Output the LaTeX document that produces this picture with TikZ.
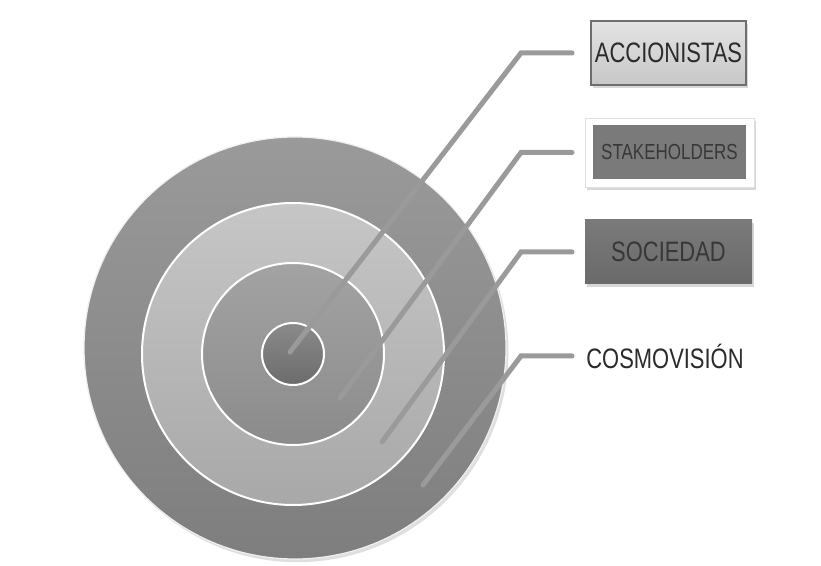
\documentclass[tikz,border=0pt]{standalone}
\usepackage{fontspec}
\setmainfont{Liberation Sans}[FakeStretch=0.78]
\usepackage{xcolor}
\usetikzlibrary{shadows}
\definecolor{OuterTop}{HTML}{9A9A9A}
\definecolor{OuterBot}{HTML}{7E7E7E}
\definecolor{MidTop}{HTML}{C6C6C6}
\definecolor{MidBot}{HTML}{A8A8A8}
\definecolor{InTop}{HTML}{A3A3A3}
\definecolor{InBot}{HTML}{8B8B8B}
\definecolor{CoreTop}{HTML}{8A8A8A}
\definecolor{CoreBot}{HTML}{6C6C6C}
\definecolor{Leader}{HTML}{9A9A9A}
\definecolor{Ink}{HTML}{2B2B2B}
\definecolor{InkSoft}{HTML}{383838}
\definecolor{Edge}{HTML}{6E6E6E}
\definecolor{PaleTop}{HTML}{E3E3E3}
\definecolor{PaleBot}{HTML}{C7C7C7}
\definecolor{DarkFill}{HTML}{7A7A7A}
\definecolor{DeepTop}{HTML}{7A7A7A}
\definecolor{DeepBot}{HTML}{6A6A6A}

\begin{document}
\begin{tikzpicture}[x=1cm,y=1cm]
  \tikzset{
    ring/.style={
      circle,
      inner sep=0pt,
      draw=white,
      line width=0.05cm
    },
    leader/.style={line width=0.125cm, Leader, line cap=round},
    tag/.style={
      inner sep=0pt,
      align=center,
      text=Ink,
      font=\fontsize{20}{22}\selectfont
    },
    tagshadow/.style={drop shadow={opacity=0.3, shadow xshift=0.04cm, shadow yshift=-0.08cm}},
    tagpale/.style={tag, tagshadow, draw=Edge, line width=0.05cm,
      top color=PaleTop, bottom color=PaleBot,
      minimum width=3.875cm, minimum height=1.6cm},
    tagframe/.style={tagshadow, draw=black!12, line width=0.4pt, fill=white,
      minimum width=4.225cm, minimum height=1.725cm},
    tagdark/.style={tag, fill=DarkFill, text=InkSoft,
      font=\fontsize{15.5}{17}\selectfont,
      minimum width=3.825cm, minimum height=1.35cm},
    tagdeep/.style={tag, tagshadow, top color=DeepTop, bottom color=DeepBot, text=InkSoft,
      minimum width=4.175cm, minimum height=1.6cm},
    tagplain/.style={tag}
  }

  \useasboundingbox (0,0) rectangle (20.525,14.15);
  \fill[white] (0,0) rectangle (20.525,14.15);

  \node[ring, draw=black!6, line width=0.03cm, minimum size=10.55cm,
    top color=OuterTop, bottom color=OuterBot,
    drop shadow={opacity=0.25, shadow xshift=0.06cm, shadow yshift=-0.08cm}] (world) at (7.375,5.45) {};
  \node[ring, minimum size=7.55cm, top color=MidTop, bottom color=MidBot] (society) at (7.325,5.30) {};
  \node[ring, minimum size=4.55cm, top color=InTop, bottom color=InBot] (holders) at (7.325,5.30) {};
  \node[ring, minimum size=1.55cm, top color=CoreTop, bottom color=CoreBot] (owners) at (7.325,5.30) {};

  \coordinate (pinowners) at (7.25,5.35);
  \coordinate (pinholders) at (8.5,4.2);
  \coordinate (pinsociety) at (9.55,3.1);
  \coordinate (pinworld) at (10.575,2.025);

  \node[tagpale] (acc) at (16.7125,12.825) {ACCIONISTAS};
  \node[tagframe] (stkframe) at (16.7375,10.3375) {};
  \node[tagdark] (stk) at (stkframe.center) {STAKEHOLDERS};
  \node[tagdeep] (soc) at (16.7125,7.85) {SOCIEDAD};
  \node[tagplain] (cosmo) at (16.625,5.25) {COSMOVISIÓN};

  \draw[leader] (pinowners) -- (13.025,0 |- acc) -- (14.3,0 |- acc);
  \draw[leader] (pinholders) -- (13.025,0 |- stk) -- (14.3,0 |- stk);
  \draw[leader] (pinsociety) -- (13.025,0 |- soc) -- (14.3,0 |- soc);
  \draw[leader] (pinworld) -- (13.025,0 |- cosmo) -- (14.3,0 |- cosmo);
\end{tikzpicture}
\end{document}
